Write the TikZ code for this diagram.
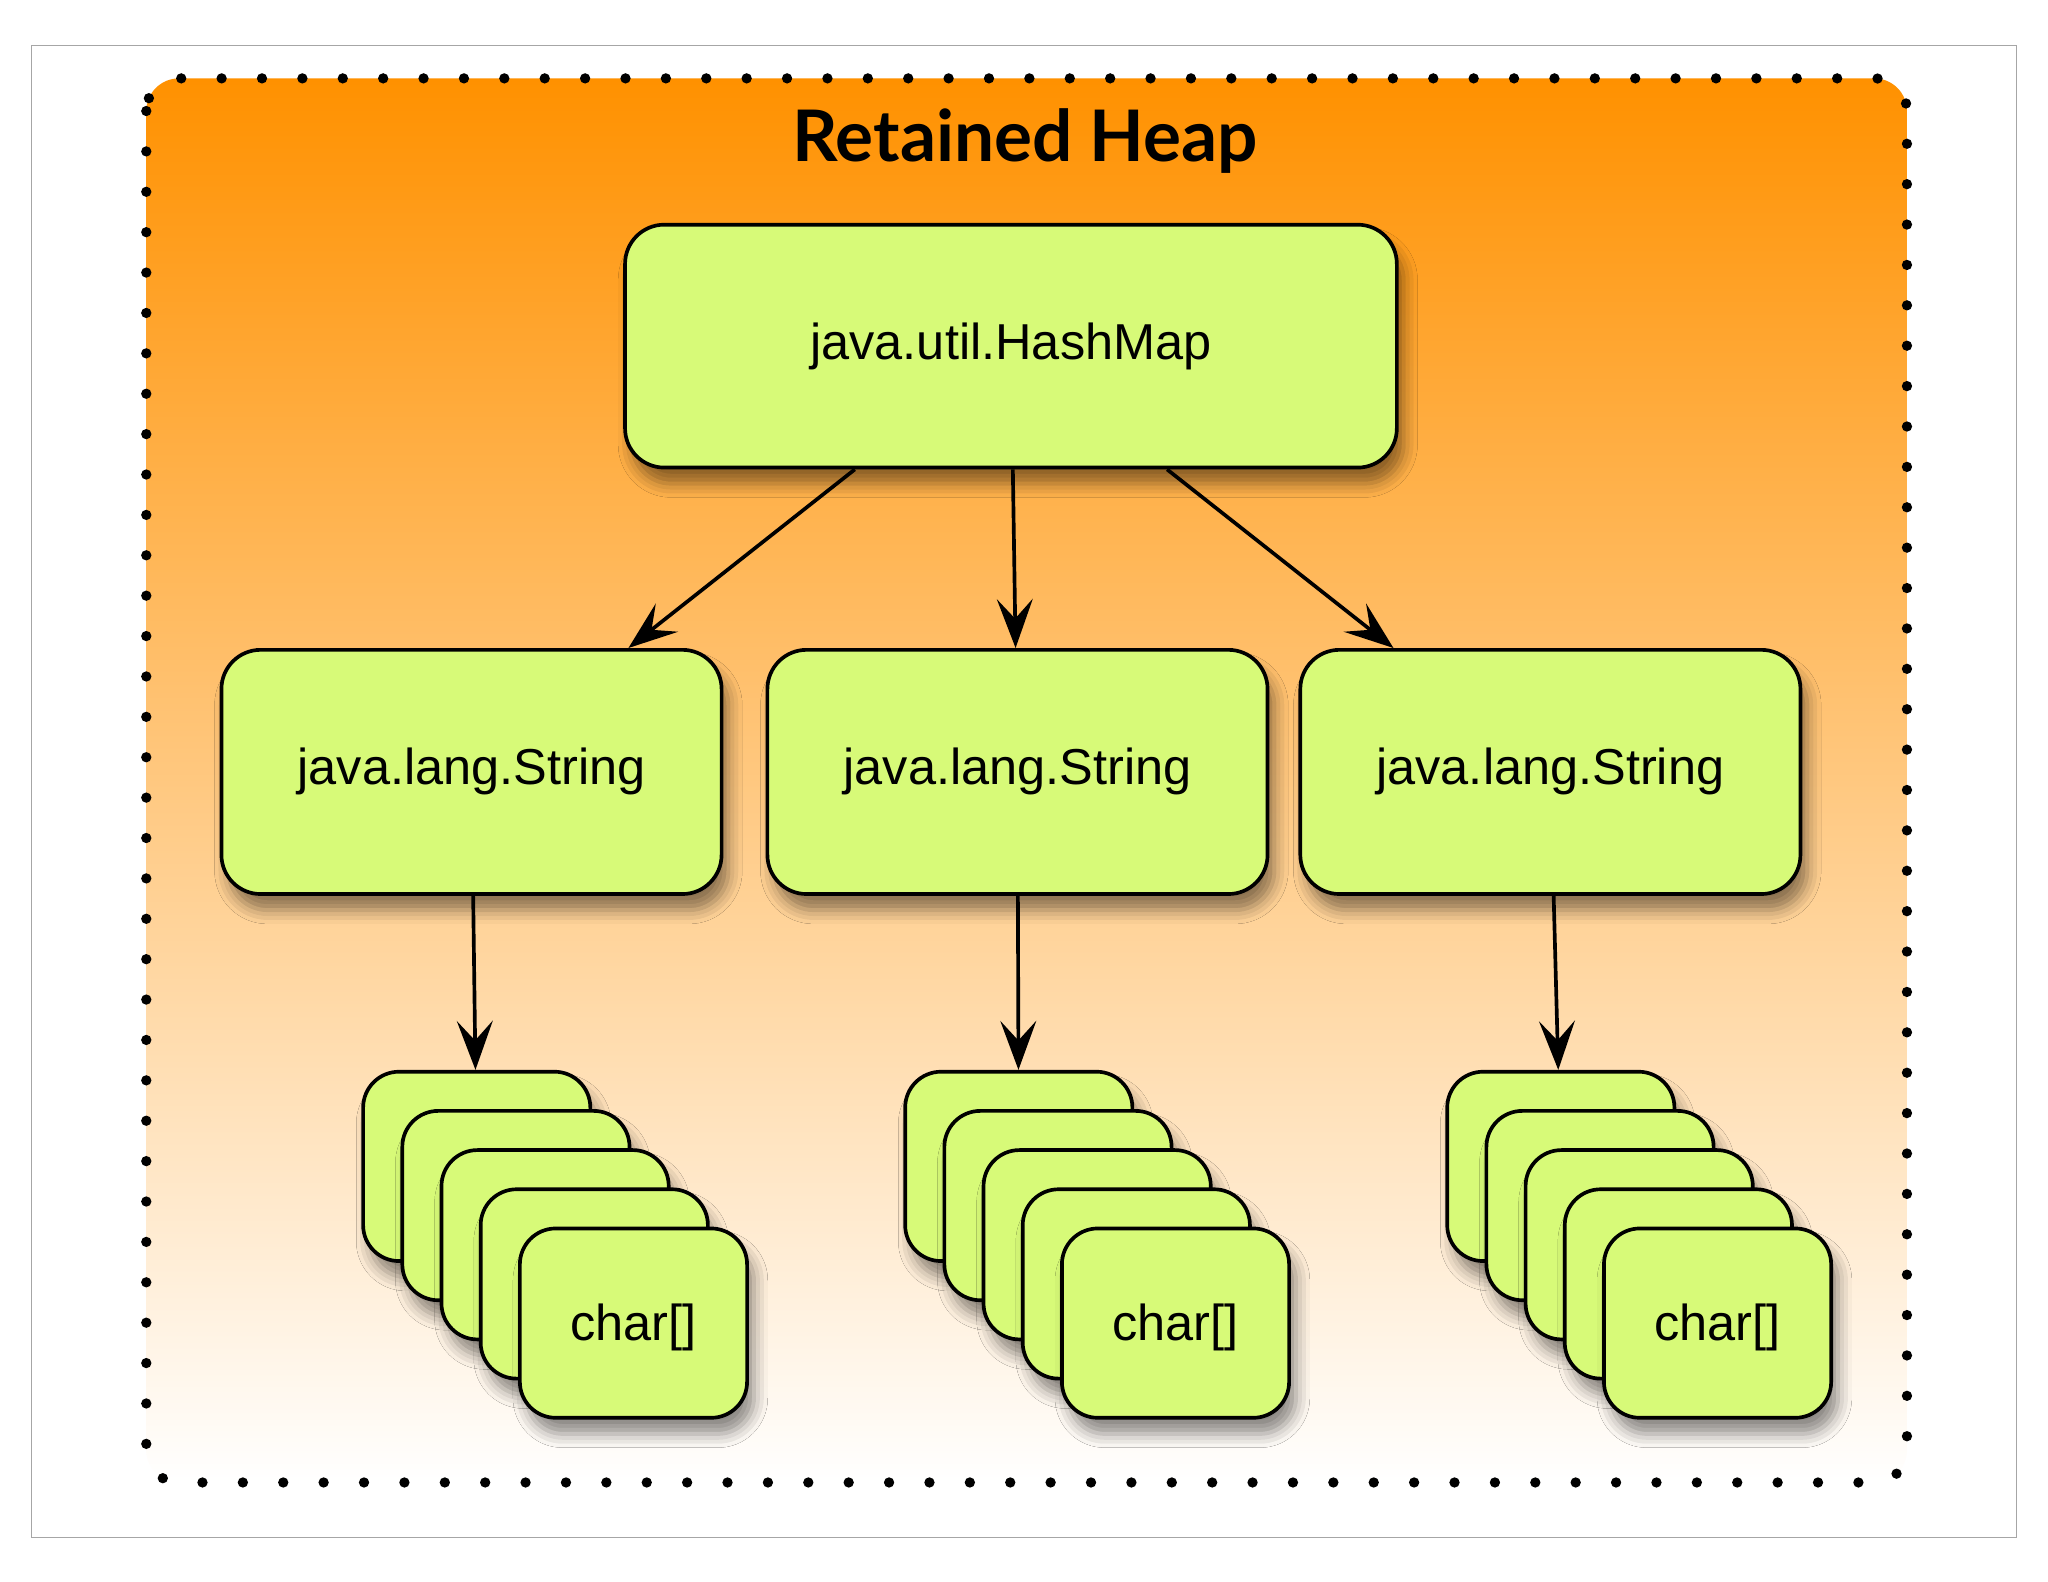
\documentclass[tikz,border=0pt]{standalone}
\usepackage{fontspec}
\setmainfont{Liberation Sans}
\newfontfamily\titlefont{Lato}
\usetikzlibrary{shadows.blur,arrows.meta}
\definecolor{boxg}{RGB}{215,250,120}
\definecolor{orangetop}{RGB}{255,145,0}
\tikzset{
  box/.style={draw=black, line width=1.6pt, fill=boxg, rounded corners=0.6cm,
    blur shadow={shadow xshift=3pt, shadow yshift=-7pt, shadow blur radius=6pt, shadow opacity=45},
    font=\fontsize{22}{26}\selectfont, inner sep=0pt},
  hmap/.style={box, minimum width=11.82cm, minimum height=3.72cm},
  str/.style={box, minimum width=7.66cm, minimum height=3.74cm},
  card/.style={box, minimum width=3.48cm, minimum height=2.9cm, rounded corners=0.55cm},
  lbl/.style={font=\fontsize{22}{26}\selectfont},
  arr/.style={line width=1.6pt, -{Stealth[length=0.75cm, width=0.55cm, inset=0.3cm]}},
}
\begin{document}
\begin{tikzpicture}[x=0.02cm,y=-0.02cm]
\useasboundingbox (0,0) rectangle (1568,1211);
\fill[white] (0,0) rectangle (1568,1211);
\draw[gray!70, line width=0.6pt] (24,35) rectangle (1544,1177);
\shade[top color=orangetop, bottom color=white, rounded corners=0.5cm] (112,60) rectangle (1460,1135);
\draw[line width=4.5pt, line cap=round, dash pattern=on 0pt off 17.6pt, rounded corners=0.5cm] (112,60) rectangle (1460,1135);
\node[font=\titlefont\bfseries\fontsize{31}{36}\selectfont] (title) at (785,108) {Retained Heap};
\node[hmap] (hm) at (774,265) {java.util.HashMap};
\node[str] (s1) at (361,591) {java.lang.String};
\node[str] (s2) at (779,591) {java.lang.String};
\node[str] (s3) at (1187,591) {java.lang.String};
\foreach \s/\x in {a/365,b/780,c/1195}{
  \foreach \i in {0,...,4}{
    \node[card] (\s\i) at ({\x+30*\i},{893+30*\i}) {};
  }
  \node[lbl] (\s l) at ({\x+120},{1016}) {char[]};
}
\draw[arr] (hm) -- (s1);
\draw[arr] (hm) -- (s2);
\draw[arr] (hm) -- (s3);
\draw[arr] (s1) -- (a0);
\draw[arr] (s2) -- (b0);
\draw[arr] (s3) -- (c0);
\end{tikzpicture}
\end{document}
